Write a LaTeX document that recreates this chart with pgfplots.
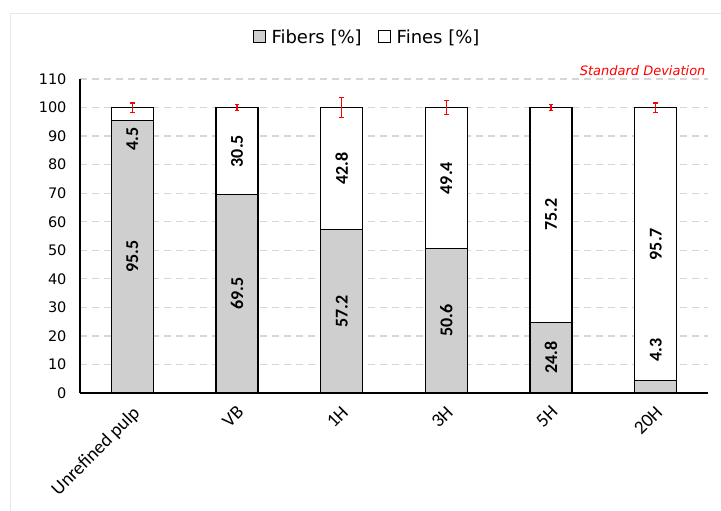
\documentclass[border=0pt]{standalone}
\usepackage{pgfplots}
\pgfplotsset{compat=1.18}
\usepackage{pgfplotstable}
\usepackage{fontspec}
\setmainfont{DejaVu Sans}
\newfontfamily\calib{Carlito}
\definecolor{fibgray}{HTML}{CFCFCF}
\definecolor{gridgray}{HTML}{D6D6D6}
\definecolor{framegray}{HTML}{E8E8E8}

% fibers / fines shares
\pgfplotstableread{
x fibers fines
0 95.5 4.5
1 69.5 30.5
2 57.2 42.8
3 50.6 49.4
4 24.8 75.2
5 4.3 95.7
}\datatable

% standard deviation of the total (100 +- sd), one segment per sample
\pgfplotstableread{
x y
0 98.4
0 101.6
0 nan
1 99.0
1 101.0
1 nan
2 96.5
2 103.5
2 nan
3 97.5
3 102.5
3 nan
4 99.0
4 101.0
4 nan
5 98.4
5 101.6
}\sdtable

% where each value label sits (segment middle, or beside a thin segment)
\pgfplotstableread{
x fibers fiblab fines finelab
0 95.5 47.75 4.5 89.0
1 69.5 34.75 30.5 84.75
2 57.2 28.6 42.8 78.6
3 50.6 25.3 49.4 75.3
4 24.8 12.4 75.2 62.4
5 4.3 15.0 95.7 52.15
}\labeltable

\pgfplotsset{
  common/.style={
    at={(80pt,118pt)}, anchor=south west,
    scale only axis, width=628pt, height=314pt,
    xmin=-0.5, xmax=5.5, ymin=0, ymax=110,
  },
}

\begin{document}
\begin{tikzpicture}
\useasboundingbox (0pt,0pt) rectangle (721pt,511pt);
\draw[framegray, line width=1pt] (10pt,-5pt) -- (10pt,497pt) -- (730pt,497pt);
\begin{axis}[
  common,
  ybar stacked, bar width=42pt,
  xtick={0,...,5},
  xticklabels={Unrefined pulp, VB, 1H, 3H, 5H, 20H},
  ytick={0,10,...,110},
  axis x line*=bottom, axis y line*=left,
  axis line style={-, black, line width=1.2pt},
  major tick length=0pt,
  ymajorgrids,
  grid style={gridgray, line width=1.2pt, dash pattern=on 7pt off 5pt},
  /pgf/number format/assume math mode=true,
  yticklabel style={font=\fontsize{14.5}{16}\selectfont, xshift=-10pt},
  xticklabel style={font=\calib\fontsize{19}{21}\selectfont, xshift=-1pt, yshift=-7pt, rotate=45, anchor=north east},
  legend style={at={(0.457,1.134)}, anchor=center, draw=none, fill=none,
    font=\fontsize{18}{20}\selectfont, legend columns=2,
    /tikz/every odd column/.append style={column sep=4pt},
    /tikz/every even column/.append style={column sep=14pt}},
  legend image code/.code={\draw[#1, line width=1pt] (0pt,-6pt) rectangle (12pt,6pt);},
]
\addplot[draw=black, line width=1.3pt, fill=fibgray]
  table[x=x, y=fibers] {\datatable};
\addlegendentry{Fibers [\%]}
\addplot[draw=black, line width=1.3pt, fill=white]
  table[x=x, y=fines] {\datatable};
\addlegendentry{Fines [\%]}
\end{axis}
% value labels
\begin{axis}[
  common,
  hide axis,
  nodes near coords={\pgfmathprintnumber[fixed, fixed zerofill, precision=1, assume math mode=true]{\pgfplotspointmeta}},
  every node near coord/.append style={anchor=center, rotate=90,
    font=\calib\bfseries\fontsize{18}{20}\selectfont, text=black},
  point meta=explicit,
]
\addplot[only marks, mark=none] table[x=x, y=fiblab, meta=fibers] {\labeltable};
\addplot[only marks, mark=none] table[x=x, y=finelab, meta=fines] {\labeltable};
\end{axis}
% standard deviation bars
\begin{axis}[
  common,
  hide axis,
  unbounded coords=jump,
]
\addplot[red, line width=1.2pt, mark=-, mark size=2.2pt, mark options={solid, red, line width=1.2pt}]
  table[x=x, y=y] {\sdtable};
\end{axis}
\node[anchor=base east, text=red, font=\fontsize{13}{15}\selectfont\itshape] at (709pt,435pt) {Standard Deviation};
\end{tikzpicture}
\end{document}
